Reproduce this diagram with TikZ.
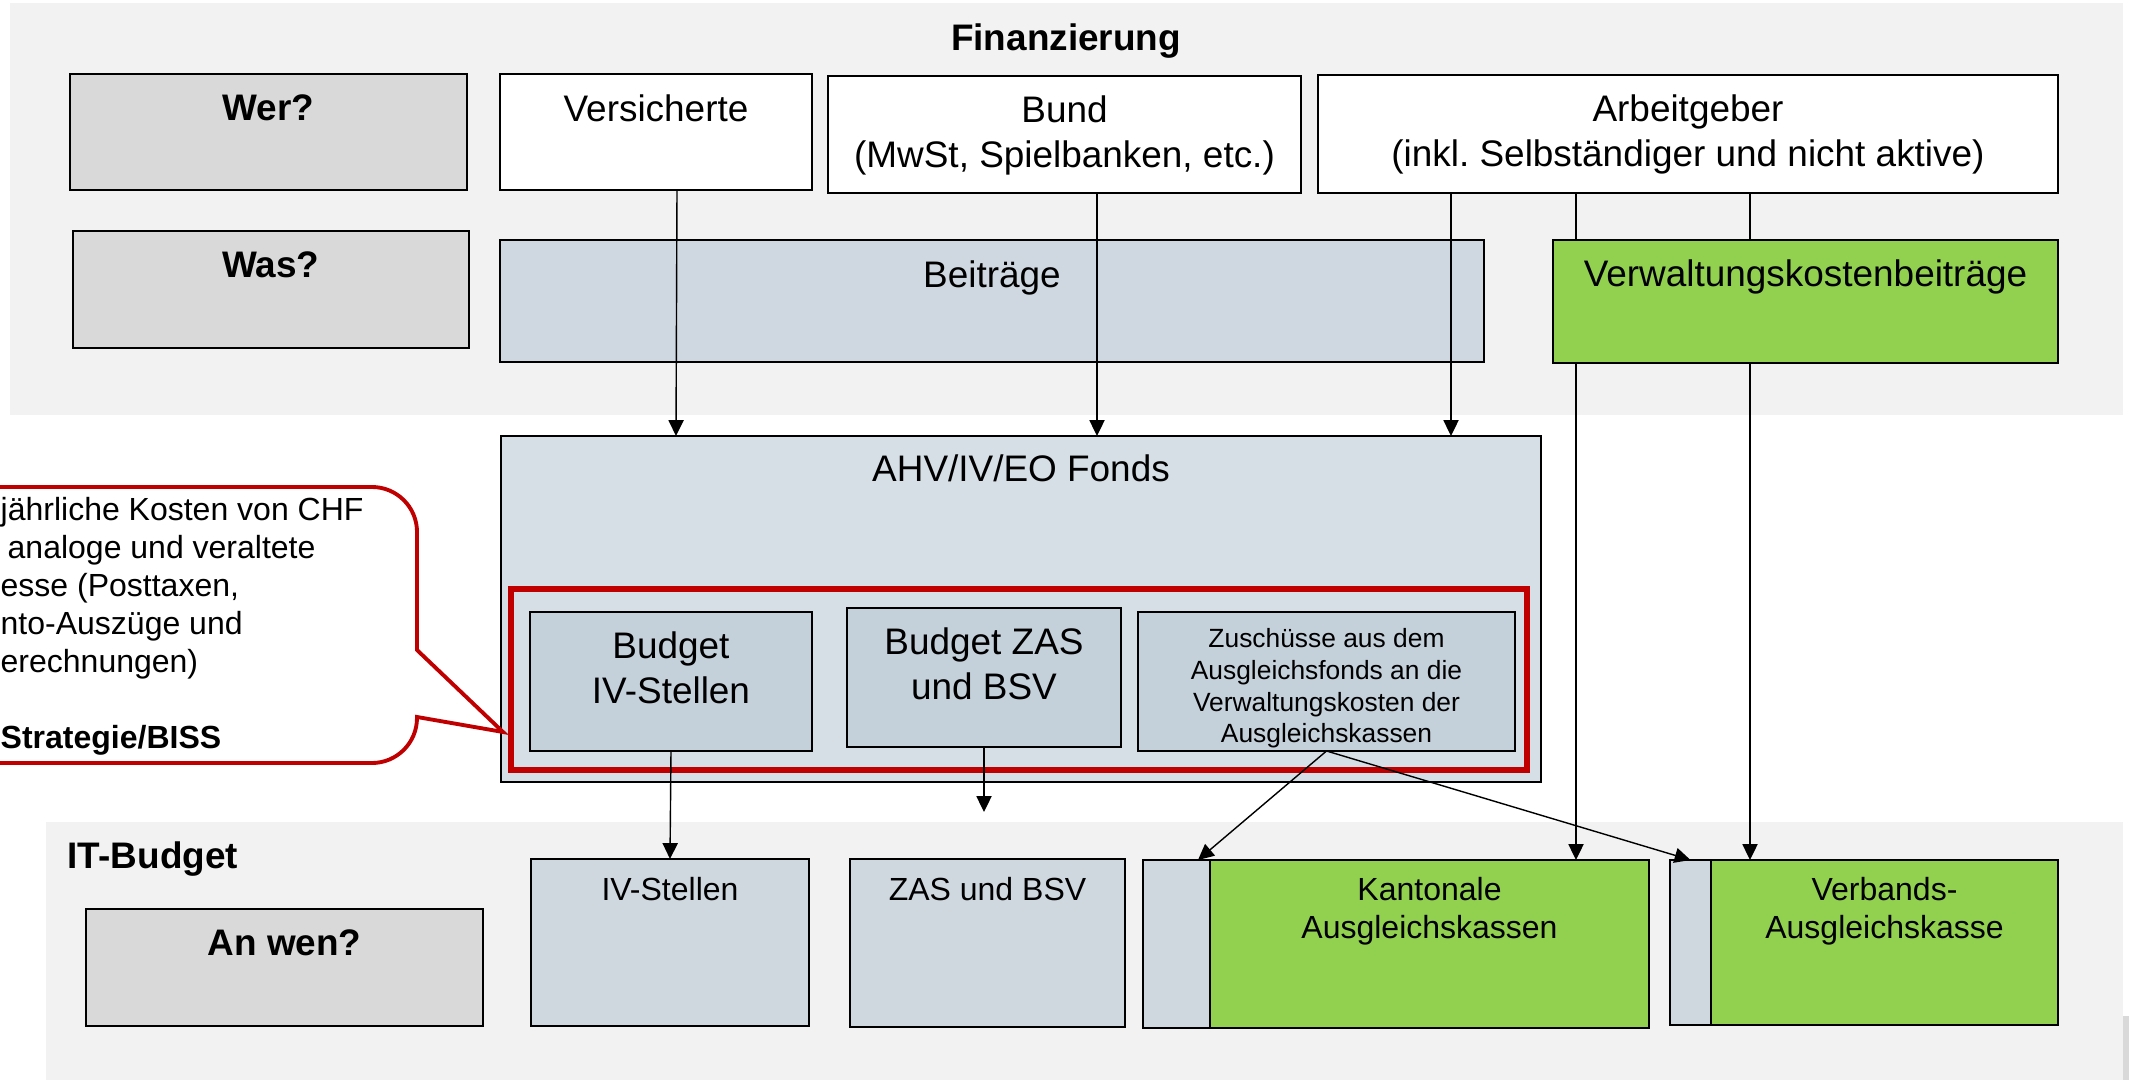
\documentclass[tikz,border=0pt]{standalone}
\usepackage{fontspec}
\setmainfont{Liberation Sans}
\usetikzlibrary{arrows.meta,positioning,fit}
\frenchspacing

\definecolor{bandgray}{HTML}{F2F2F2}
\definecolor{askgray}{HTML}{D9D9D9}
\definecolor{beitblue}{HTML}{CFD8E0}
\definecolor{fondsblue}{HTML}{D6DEE6}
\definecolor{budblue}{HTML}{C4D0DA}
\definecolor{itblue}{HTML}{CFD7DF}
\definecolor{kassegreen}{HTML}{92D050}
\definecolor{frame red}{HTML}{C00000}

\newcommand{\txtbig}{\fontsize{10.5pt}{12.8pt}\selectfont}
\newcommand{\txtmid}{\fontsize{9.1pt}{10.8pt}\selectfont}
\newcommand{\txtsmall}{\fontsize{7.5pt}{9pt}\selectfont}

\tikzset{
	box/.style={draw=black, line width=0.55pt, inner sep=0pt, outer sep=0pt},
	txt/.style={font=\txtbig, align=center, inner sep=0pt},
	asktxt/.style={font=\txtbig\bfseries, inner sep=0pt},
	conn/.style={line width=0.4pt},
	arr/.style={conn, -{Triangle[length=4.5pt,width=4.3pt]}}
}

\begin{document}
\begin{tikzpicture}[x=0.01cm,y=-0.01cm]
				\useasboundingbox (0,0) rectangle (2129,1080);
				%% background bands
				\fill[bandgray] (10,3) rectangle (2123,415);
				\fill[bandgray] (46,822) rectangle (2123,1080);
				\fill[askgray] (2123,1016) rectangle (2129,1080);
				\node[asktxt, anchor=north] (fintxt) at (1066,23) {Finanzierung};
				\node[asktxt, anchor=north west] (ittxt) at (67,841) {IT-Budget};
				
				%% Wer? / Was?
				\node[box, fill=askgray, fit={(70,74) (467,190)}] (wer) {};
				\node[box, fill=askgray, fit={(73,231) (469,348)}] (was) {};
				\node[asktxt, below=0.20cm of wer.north] (wertxt) {Wer?};
				\node[asktxt, below=0.20cm of was.north] (wastxt) {Was?};
				
				\node[box, fill=white, fit={(500,74) (812,190)}] (vers) {};
				\node[box, fill=white, fit={(828,76) (1301,193)}] (bund) {};
				\node[box, fill=white, fit={(1318,75) (2058,193)}] (arb) {};
				\node[txt, below=0.20cm of vers.north] (verstxt) {Versicherte};
				\node[txt, below=0.19cm of bund.north] (bundtxt) {Bund\\(MwSt, Spielbanken, etc.)};
				\node[txt, below=0.19cm of arb.north] (arbtxt) {Arbeitgeber\\(inkl. Selbständiger und nicht aktive)};
				
				\node[box, fill=beitblue, fit={(500,240) (1484,362)}] (beit) {};
				\node[box, fill=kassegreen, fit={(1553,240) (2058,363)}] (vkb) {};
				\node[txt, below=0.20cm of beit.north] (beittxt) {Beiträge};
				\node[txt, below=0.19cm of vkb.north] (vkbtxt) {Verwaltungskostenbeiträge};
				
				%% Fonds
				\node[box, fill=fondsblue, fit={(501,436) (1541,782)}] (fonds) {};
				\node[txt, below=0.18cm of fonds.north] (fondstxt) {AHV/IV/EO Fonds};
				\node[draw=frame red, line width=1.6pt, inner sep=0pt, fit={(511,589) (1527,770)}] (budframe) {};
				\node[box, line width=0.5pt, fill=budblue, fit={(530,612) (812,751)}] (budiv) {};
				\node[box, line width=0.5pt, fill=budblue, fit={(847,608) (1121,747)}] (budzas) {};
				\node[box, line width=0.5pt, fill=budblue, fit={(1138,612) (1515,751)}] (zusch) {};
				\node[txt, below=0.19cm of budiv.north] (budivtxt) {Budget\\IV-Stellen};
				\node[txt, below=0.19cm of budzas.north] (budzastxt) {Budget ZAS\\und BSV};
				\node[txt, font=\txtsmall, below=0.16cm of zusch.north] (zuschtxt) {Zuschüsse aus dem\\Ausgleichsfonds an die\\Verwaltungskosten der\\Ausgleichskassen};
				
				%% An wen?
				\node[box, fill=askgray, fit={(86,909) (483,1026)}] (anwen) {};
				\node[asktxt, below=0.20cm of anwen.north] (anwentxt) {An wen?};
				\node[box, fill=itblue, fit={(531,859) (809,1026)}] (iv) {};
				\node[box, fill=itblue, fit={(850,859) (1125,1027)}] (zas) {};
				\node[box, fill=itblue, fit={(1143,860) (1240,1028)}] (kantgray) {};
				\node[box, fill=kassegreen, fit={(1210,860) (1649,1028)}] (kant) {};
				\node[box, fill=itblue, fit={(1670,860) (1711,1025)}] (verbgray) {};
				\node[box, fill=kassegreen, fit={(1711,860) (2058,1025)}] (verb) {};
				\node[txt, font=\txtmid, below=0.18cm of iv.north] (ivtxt) {IV-Stellen};
				\node[txt, font=\txtmid, below=0.18cm of zas.north] (zastxt) {ZAS und BSV};
				\node[txt, font=\txtmid, below=0.17cm of kant.north] (kanttxt) {Kantonale\\Ausgleichskassen};
				\node[txt, font=\txtmid, below=0.17cm of verb.north] (verbtxt) {Verbands-\\Ausgleichskasse};
				
				%% connectors
				\draw[arr] (677,0 |- vers.south) -- (676,0 |- fonds.north);
				\draw[arr] (1097,0 |- bund.south) -- (1097,0 |- fonds.north);
				\draw[arr] (1451,0 |- arb.south) -- (1451,0 |- fonds.north);
				\draw[conn] (1576,0 |- arb.south) -- (1576,0 |- vkb.north);
				\draw[conn] (1750,0 |- arb.south) -- (1750,0 |- vkb.north);
				\draw[arr] (1576,0 |- vkb.south) -- (1576,0 |- kant.north);
				\draw[arr] (1750,0 |- vkb.south) -- (1750,0 |- verb.north);
				\draw[arr] (budiv.south) -- (iv.north);
				\coordinate (zasend) at (984,812);
				\draw[arr] (budzas.south) -- (zasend);
				\draw[arr] (zusch.south) -- (1198,0 |- kantgray.north);
				\draw[arr] (zusch.south) -- (verbgray.north);
				
				%% callout
				\draw[frame red, line width=1.1pt, fill=white] (-10,487) -- (372,487) arc[start angle=90, end angle=0, radius=0.45cm] -- (417,650) -- (503,732) -- (417,717) -- (417,718) arc[start angle=0, end angle=-90, radius=0.45cm] -- (-10,763);
				\node[font=\txtmid, align=left, anchor=north west, inner sep=0pt] (calltxt) at (0,497) {jährliche Kosten von CHF\\\hspace*{0.07cm}analoge und veraltete\\esse (Posttaxen,\\nto-Auszüge und\\erechnungen)\\[0.38cm]\textbf{Strategie/BISS}};
\end{tikzpicture}
\end{document}
